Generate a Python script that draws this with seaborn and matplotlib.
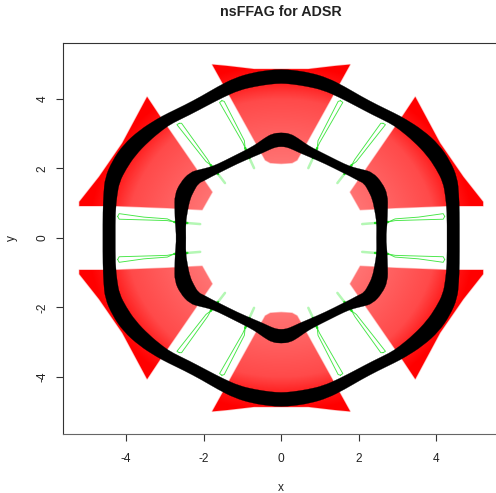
import numpy as np
import matplotlib
matplotlib.use('Agg')
import matplotlib.pyplot as plt
from matplotlib.colors import LinearSegmentedColormap
from matplotlib.patches import PathPatch, Polygon
from matplotlib.path import Path
import seaborn as sns

# one quarter of each orbit (top -> +x axis), the rest is mirrored
outer_x = [0, 0.28, 0.70, 1.14, 1.57, 1.99, 2.43, 2.86, 3.12, 3.54, 3.92, 4.18, 4.36, 4.41, 4.44, 4.44]
outer_y = [4.65, 4.63, 4.56, 4.43, 4.20, 3.94, 3.68, 3.45, 3.28, 2.94, 2.53, 2.10, 1.67, 1.24, 0.75, 0]
outer_w = [14, 14, 14, 13, 12, 11, 11, 11, 12, 14.5, 16, 16, 15, 13.5, 12.5, 12.5]
inner_x = [0, 0.18, 0.36, 0.54, 0.75, 1.19, 1.60, 1.83, 2.04, 2.25, 2.43, 2.55, 2.58, 2.60, 2.58]
inner_y = [2.83, 2.81, 2.71, 2.59, 2.47, 2.24, 2.01, 1.90, 1.81, 1.73, 1.47, 1.18, 0.81, 0.43, 0]
inner_w = [14, 14, 12.5, 11, 9.5, 8.5, 8.5, 9.5, 12, 14, 16, 16, 13, 10.5, 9.5]

top_x = [0, 0.70, 1.39, 1.78, 0.41, 0.28, 0]
top_y = [4.86, 4.86, 4.95, 4.99, 2.24, 2.16, 2.14]
side_x = [3.46, 4.10, 4.70, 5.21, 5.21, 4.28, 2.89, 2.04, 1.78, 3.15]
side_y = [4.06, 2.73, 1.76, 1.04, 0.92, 0.92, 0.86, 0.81, 1.32, 3.54]

# slim loops in the straight sections
loop_a_x = [1.53, 1.59, 0.99, 0.93, 0.95, 1.47, 1.53]
loop_a_y = [3.95, 3.90, 2.74, 2.59, 2.80, 3.93, 3.95]
loop_b_x = [2.63, 2.69, 1.94, 1.82, 1.90, 2.57, 2.63]
loop_b_y = [3.30, 3.26, 2.20, 2.10, 2.26, 3.30, 3.30]
loop_c_x = [4.22, 4.18, 3.54, 2.94, 2.76, 2.94, 3.54, 4.18, 4.22]
loop_c_y = [0.62, 0.54, 0.52, 0.50, 0.46, 0.55, 0.60, 0.70, 0.62]

# tails past the inner orbit: solid start, faint end
tail_a_x = [0.93, 0.82, 0.70]
tail_a_y = [2.59, 2.30, 2.01]
tail_b_x = [1.82, 1.63, 1.45]
tail_b_y = [2.10, 1.84, 1.58]
tail_c_x = [2.76, 2.42, 2.09]
tail_c_y = [0.46, 0.43, 0.40]

x_ticks = [-4, -2, 0, 2, 4]
y_ticks = [-4, -2, 0, 2, 4]

sns.set_style('ticks')
plt.rcParams['font.family'] = ['Liberation Sans', 'DejaVu Sans']

fig = plt.figure(figsize=(4.96, 4.93), dpi=100)
ax = fig.add_axes([63/496, 1 - 434/493, (499 - 63)/496, (434 - 43)/493])
ax.set_xlim(-5.63, 5.62)
ax.set_ylim(-5.64, 5.61)


def mirror_quarter(x, y, w):
    # quarter from top to the +x axis -> full closed curve (no repeated end point)
    x = np.array(x)
    y = np.array(y)
    w = np.array(w, dtype=float)
    xs = np.concatenate([x, x[::-1][1:], -x[1:], -x[::-1][1:-1]])
    ys = np.concatenate([y, -y[::-1][1:], -y[1:], y[::-1][1:-1]])
    ws = np.concatenate([w, w[::-1][1:], w[1:], w[::-1][1:-1]])
    return xs, ys, ws


def smooth_ring(p):
    # read points used as quadratic control points, curve passes through the midpoints
    mids = (p + np.roll(p, -1, axis=0)) / 2
    verts = [mids[-1]]
    codes = [Path.MOVETO]
    for c, m in zip(p, mids):
        verts += [c, m]
        codes += [Path.CURVE3, Path.CURVE3]
    return verts, codes


def draw_orbit(x, y, w):
    xs, ys, ws = mirror_quarter(x, y, w)
    # offset in pixels since the axes are not equal
    p = ax.transData.transform(np.column_stack([xs, ys]))
    d = np.roll(p, -1, axis=0) - np.roll(p, 1, axis=0)
    n = np.column_stack([-d[:, 1], d[:, 0]]) / np.hypot(d[:, 0], d[:, 1])[:, None]
    inv = ax.transData.inverted()
    edge_a = inv.transform(p + n*ws[:, None]/2)
    edge_b = inv.transform(p - n*ws[:, None]/2)
    va, ca = smooth_ring(edge_a)
    vb, cb = smooth_ring(edge_b[::-1])
    ax.add_patch(PathPatch(Path(np.array(va + vb), ca + cb), fc='black', ec='black',
                           lw=0.2, zorder=3))


# red sectors: radial shading clipped to the outlines
cmap = LinearSegmentedColormap.from_list('sector', [(0, '#ff7272'), (0.64, '#ff4a4a'),
                                                    (0.82, '#ff1c1c'), (1, '#ff0000')])
grid_x, grid_y = np.meshgrid(np.linspace(-5.6, 5.6, 500), np.linspace(-5.6, 5.6, 500))
radius = np.hypot(grid_x, grid_y)

tx = np.concatenate([top_x, -np.array(top_x[::-1][1:-1])])
ty = np.concatenate([top_y, top_y[::-1][1:-1]])
sectors = [(tx, ty), (tx, -ty)]
for sx in (1, -1):
    for sy in (1, -1):
        sectors.append((sx*np.array(side_x), sy*np.array(side_y)))
for px, py in sectors:
    im = ax.imshow(radius, cmap=cmap, vmin=2.2, vmax=5, origin='lower',
                   extent=[-5.6, 5.6, -5.6, 5.6], aspect='auto', zorder=1)
    patch = Polygon(np.column_stack([px, py]), closed=True, fc='none', ec='#ff3030',
                    lw=1, alpha=0.3, joinstyle='round', zorder=0.9)
    ax.add_patch(patch)
    im.set_clip_path(patch)

# green loops and tails
for sx in (1, -1):
    for sy in (1, -1):
        for lx, ly in [(loop_a_x, loop_a_y), (loop_b_x, loop_b_y), (loop_c_x, loop_c_y)]:
            sns.lineplot(x=sx*np.array(lx), y=sy*np.array(ly), sort=False, estimator=None,
                         color='#45e645', lw=0.65, ax=ax, zorder=2)
        for lx, ly in [(tail_a_x, tail_a_y), (tail_b_x, tail_b_y), (tail_c_x, tail_c_y)]:
            lx = sx*np.array(lx)
            ly = sy*np.array(ly)
            sns.lineplot(x=lx[1:], y=ly[1:], sort=False, estimator=None,
                         color='#b4f7b4', lw=1.8, ax=ax, zorder=2)
            sns.lineplot(x=lx[:2], y=ly[:2], sort=False, estimator=None,
                         color='#22dd22', lw=1.7, ax=ax, zorder=2)

# black orbits
draw_orbit(outer_x, outer_y, outer_w)
draw_orbit(inner_x, inner_y, inner_w)

ax.set_xticks(x_ticks)
ax.set_yticks(y_ticks)
ax.set_xticklabels([str(v) for v in x_ticks], fontsize=8.6, color='#222222')
ax.set_yticklabels([str(v) for v in y_ticks], fontsize=8.6, color='#222222', rotation=90, va='center')
ax.tick_params(length=5, width=0.8, color='#333333')
ax.tick_params(axis='x', pad=9)
ax.tick_params(axis='y', pad=5.5)
for s in ax.spines.values():
    s.set_visible(True)
    s.set_linewidth(0.8)
    s.set_color('#333333')
ax.spines['bottom'].set_color('#666666')
ax.set_xlabel('')
ax.set_ylabel('')
fig.text(281/496, 1 - 488/493, 'x', ha='center', va='center', fontsize=8.6, color='#222222')
fig.text(12/496, 1 - 238/493, 'y', ha='center', va='center', fontsize=8.6, color='#222222', rotation=90)
fig.text(281/496, 1 - 12/493, 'nsFFAG for ADSR', ha='center', va='center', fontsize=10.3,
         fontweight='bold', color='#222222')

fig.savefig('out.png', dpi=100)
